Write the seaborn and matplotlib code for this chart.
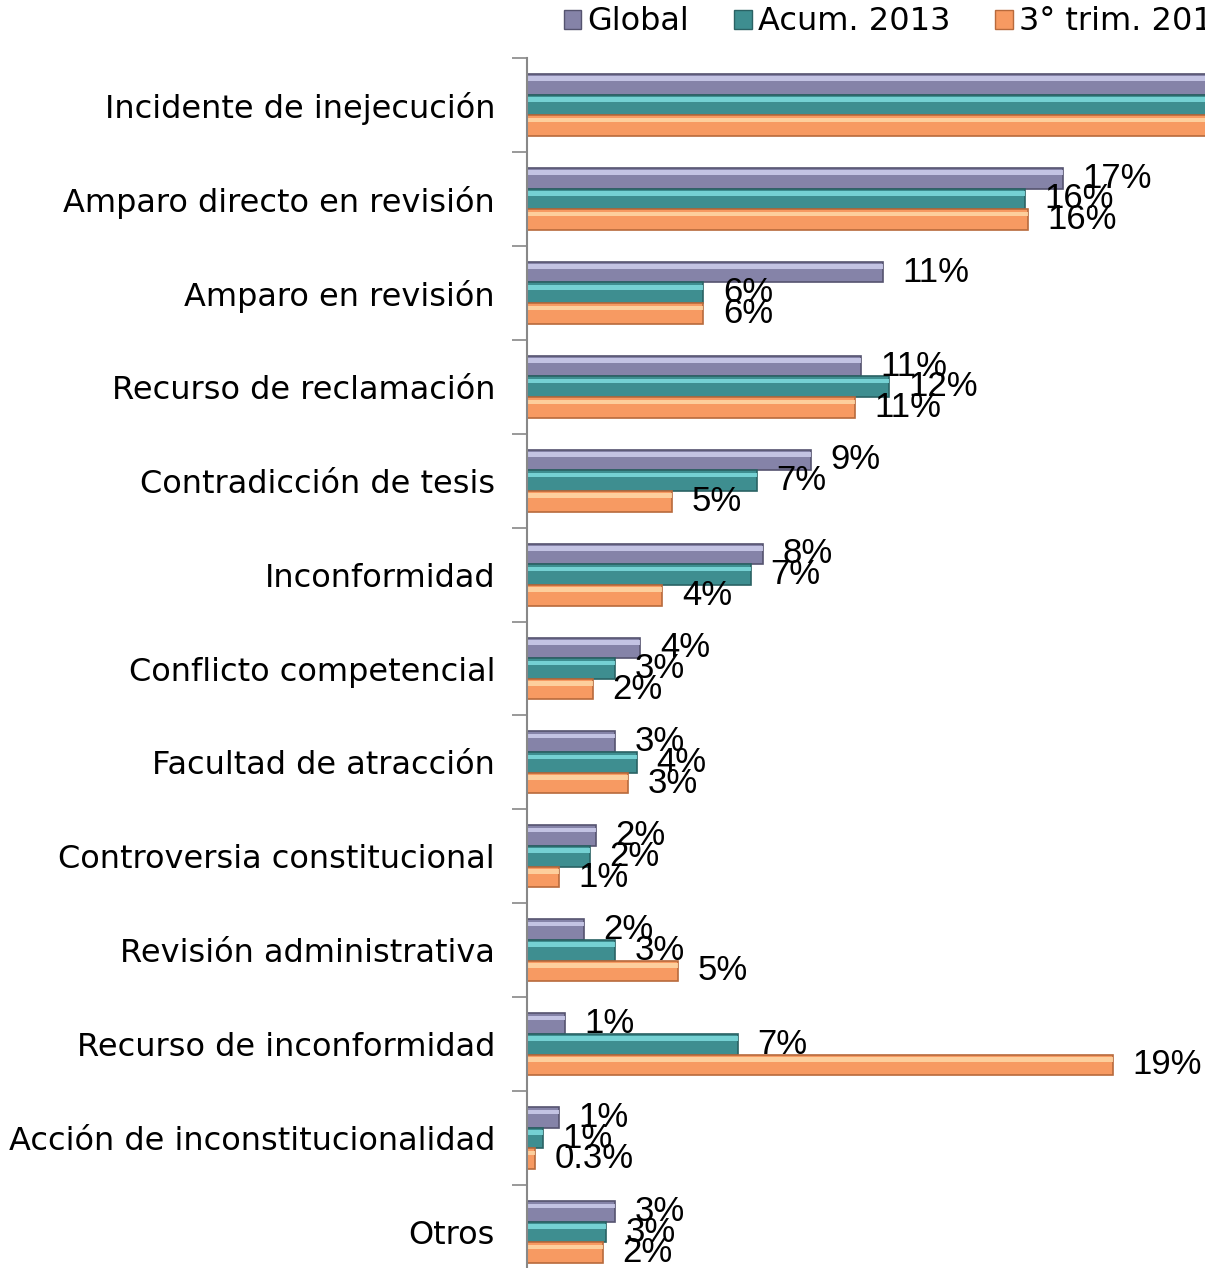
import matplotlib
matplotlib.use("Agg")
import matplotlib.pyplot as plt
import seaborn as sns
import pandas as pd
import numpy as np
from matplotlib.patches import Patch, Rectangle

categories = ["Incidente de inejecución", "Amparo directo en revisión", "Amparo en revisión",
              "Recurso de reclamación", "Contradicción de tesis", "Inconformidad",
              "Conflicto competencial", "Facultad de atracción", "Controversia constitucional",
              "Revisión administrativa", "Recurso de inconformidad",
              "Acción de inconstitucionalidad", "Otros"]
series = ["Global", "Acum. 2013", "3° trim. 2013"]
global_vals = [29.0, 17.0, 11.3, 10.6, 9.0, 7.5, 3.6, 2.8, 2.2, 1.8, 1.2, 1.0, 2.8]
acum_vals = [32.0, 15.8, 5.6, 11.5, 7.3, 7.1, 2.8, 3.5, 2.0, 2.8, 6.7, 0.5, 2.5]
trim_vals = [27.0, 15.9, 5.6, 10.4, 4.6, 4.3, 2.1, 3.2, 1.0, 4.8, 18.6, 0.25, 2.4]
global_lbl = ["29%", "17%", "11%", "11%", "9%", "8%", "4%", "3%", "2%", "2%", "1%", "1%", "3%"]
acum_lbl = ["32%", "16%", "6%", "12%", "7%", "7%", "3%", "4%", "2%", "3%", "7%", "1%", "3%"]
trim_lbl = ["27%", "16%", "6%", "11%", "5%", "4%", "2%", "3%", "1%", "5%", "19%", "0.3%", "2%"]

colors = ["#8583A8", "#3E8E90", "#F79A62"]
lights = ["#CFCFEE", "#7FDDE0", "#FFD9A8"]
edges = ["#55536F", "#2A6264", "#B86A3C"]

df = pd.DataFrame({
    "cat": categories * 3,
    "series": [series[0]] * 13 + [series[1]] * 13 + [series[2]] * 13,
    "val": global_vals + acum_vals + trim_vals,
})
labels = [global_lbl, acum_lbl, trim_lbl]

sns.set_style("white")
plt.rcParams["font.family"] = ["DejaVu Sans"]

fig = plt.figure(figsize=(12.05, 12.68), dpi=100)
W, H = 1205, 1268
x0, top, bottom = 527, 58, 1279
ax = fig.add_axes([x0 / W, (H - bottom) / H, (W - x0) / W, (bottom - top) / H])

sns.barplot(data=df, y="cat", x="val", hue="series", order=categories, hue_order=series,
            palette=colors, width=0.66, orient="h", ax=ax, legend=False, saturation=1)

for i, cont in enumerate(ax.containers):
    for j, bar in enumerate(cont):
        bar.set_edgecolor(edges[i])
        bar.set_linewidth(1.2)
        w = bar.get_width()
        h = bar.get_height()
        y = bar.get_y()
        ax.add_patch(Rectangle((0, y + h * 0.12), w, h * 0.22, facecolor=lights[i],
                               edgecolor="none", alpha=0.85, zorder=bar.get_zorder() + 0.1))
        yc = y + h / 2
        ax.annotate(labels[i][j], (w, yc), xytext=(14, 0), textcoords="offset points",
                    va="center", ha="left", fontsize=25, family="Liberation Sans",
                    color="black", annotation_clip=True, zorder=5)

ax.set_xlim(0, (W - x0) / 31.5)
ax.set_ylim(len(categories) - 0.5, -0.5)
ax.set_xlabel("")
ax.set_ylabel("")
ax.set_xticks([])
for s in ["top", "right", "bottom"]:
    ax.spines[s].set_visible(False)
ax.spines["left"].set_color("#888888")
ax.spines["left"].set_linewidth(1.5)
ax.set_yticks(range(len(categories)))
ax.set_yticklabels(categories, fontsize=23, color="black")
ax.tick_params(axis="y", which="major", left=False, length=0, pad=23)
ax.set_yticks(np.arange(-0.5, len(categories), 1), minor=True)
ax.tick_params(axis="y", which="minor", left=True, length=11, width=1.2,
               color="#888888", direction="out")

handles = [Patch(facecolor=c, edgecolor=e, label=s) for c, e, s in zip(colors, edges, series)]
fig.legend(handles=handles, loc="center left", bbox_to_anchor=(551 / W, 1 - 22 / H),
           ncol=3, frameon=False, fontsize=23, handlelength=0.55, handleheight=0.55,
           handletextpad=0.2, columnspacing=1.4, borderaxespad=0, labelcolor="black")

fig.savefig("out.png", dpi=100)
